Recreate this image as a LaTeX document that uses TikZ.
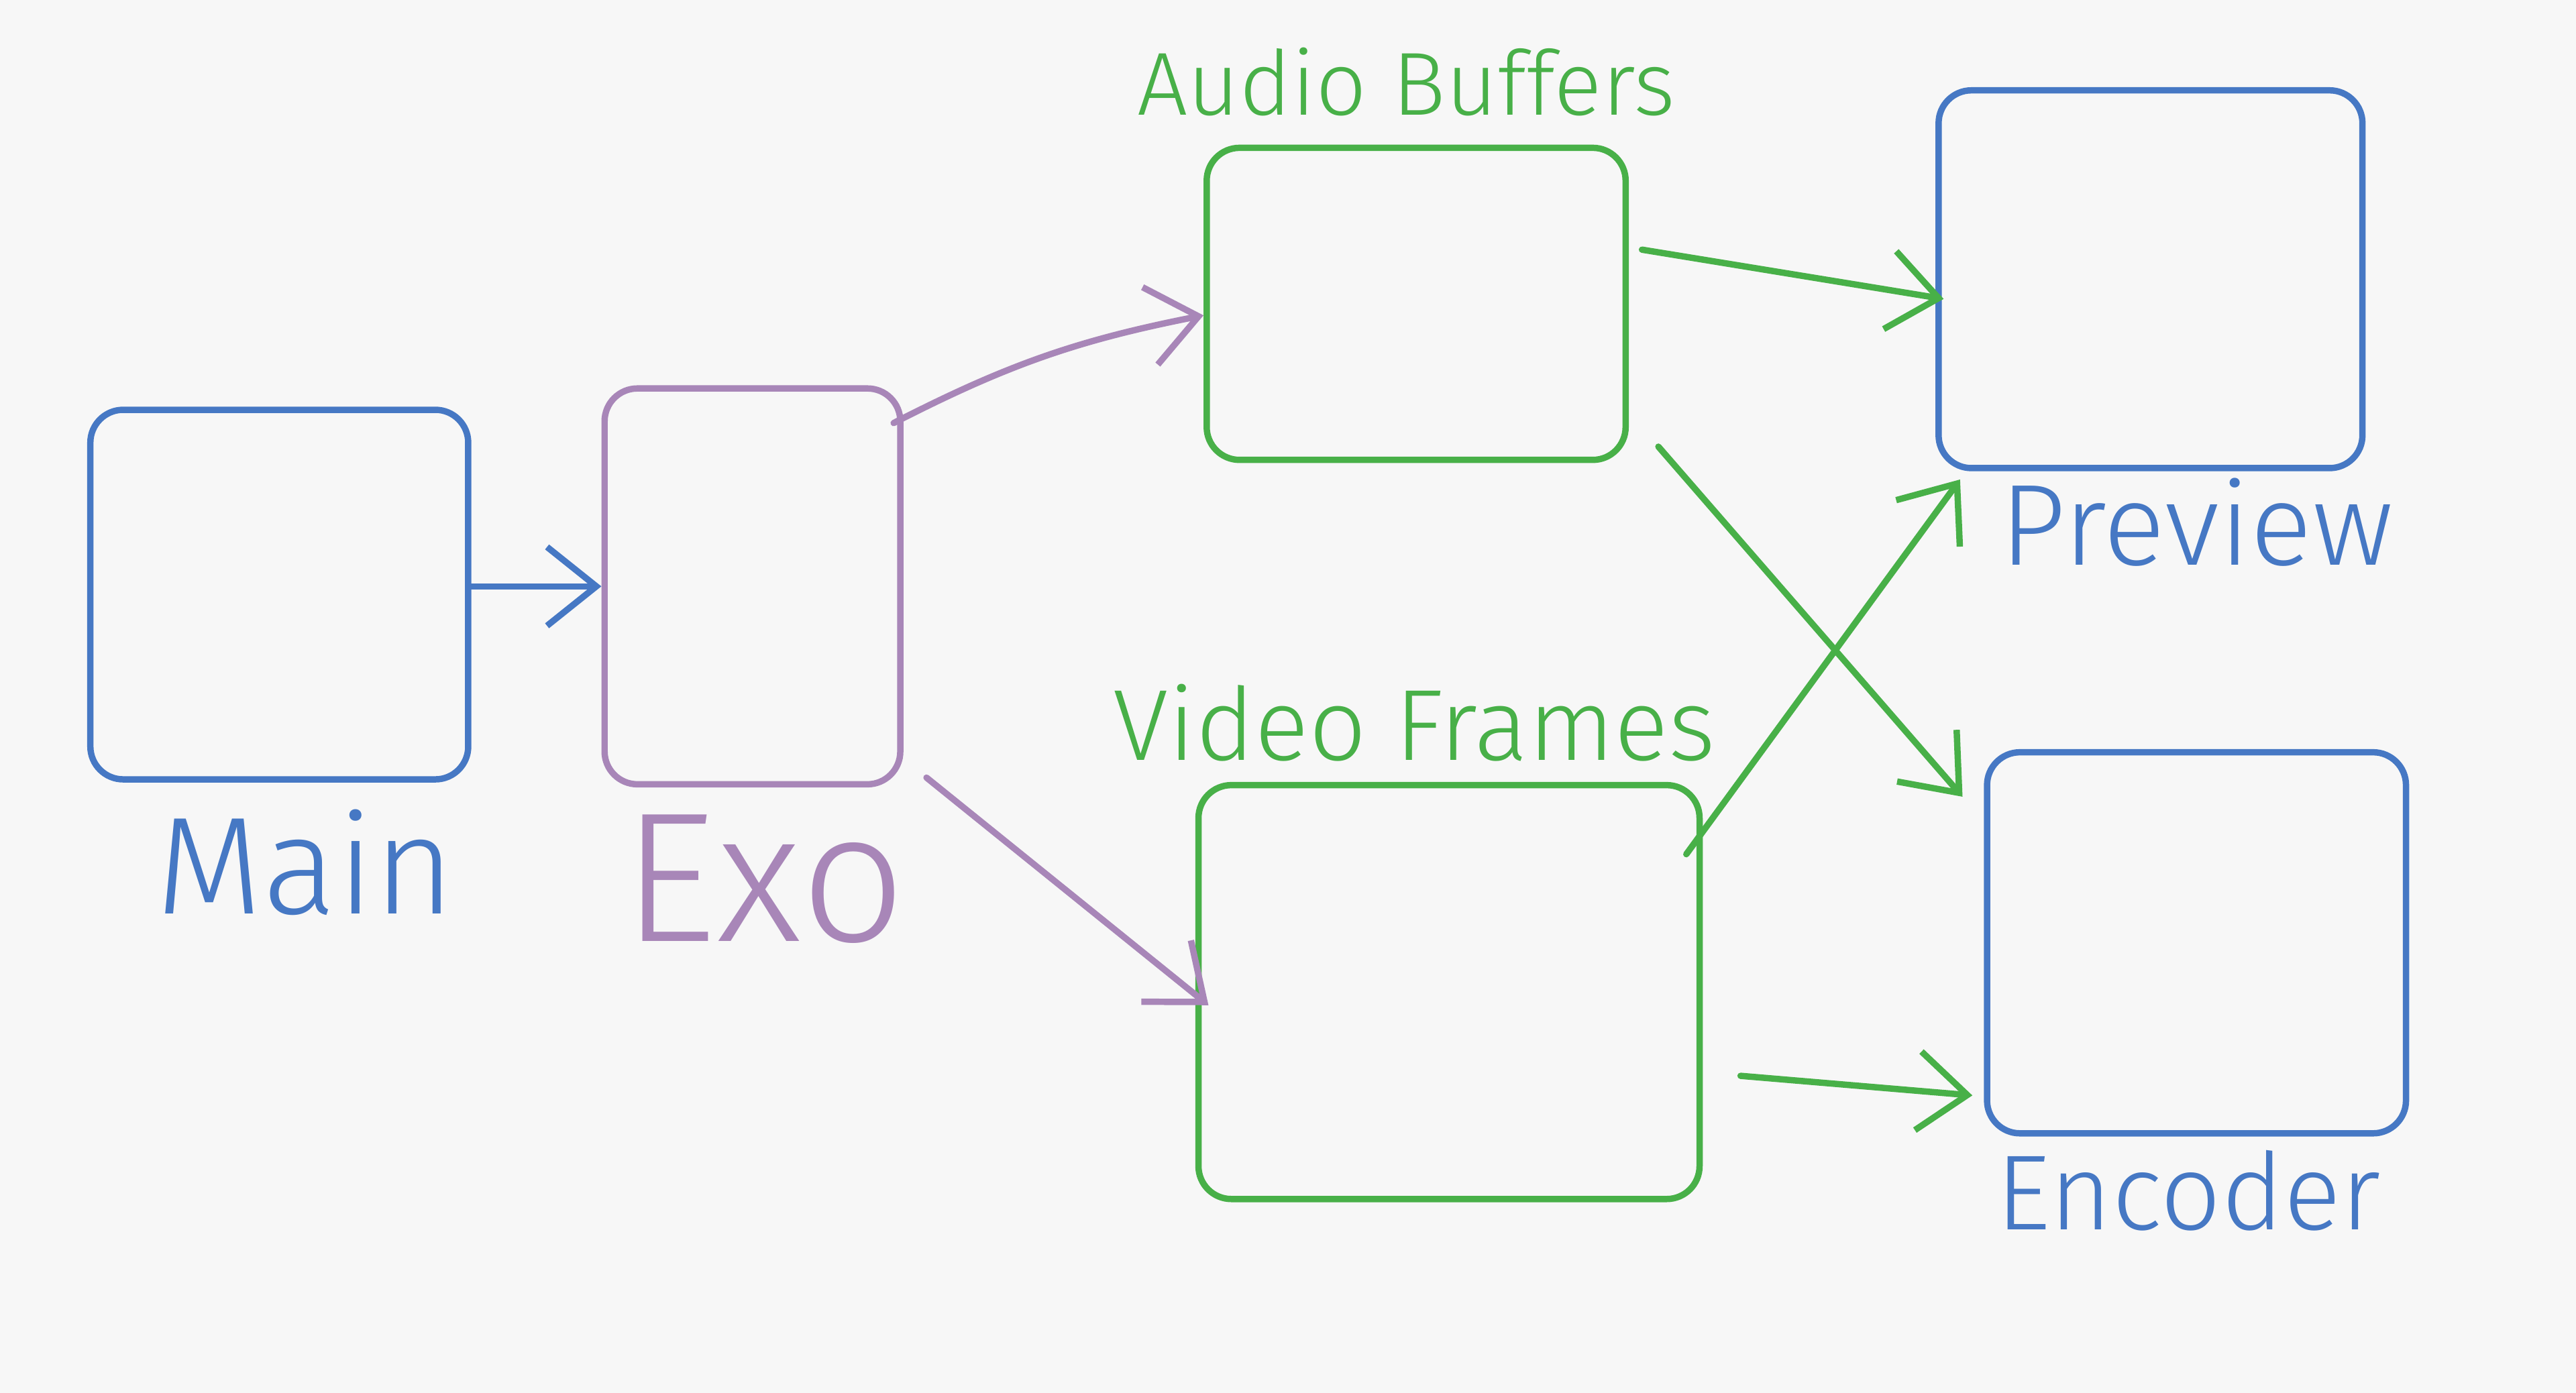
\documentclass[tikz,border=0pt]{standalone}
\usepackage{fontspec}
\newfontfamily\handfont{Fira Sans Light}
\usepackage{xcolor}
\usetikzlibrary{arrows.meta}
\definecolor{sketchblue}{HTML}{4678C4}
\definecolor{sketchpurple}{HTML}{A886B8}
\definecolor{sketchgreen}{HTML}{48B048}
\definecolor{paper}{HTML}{F7F7F7}
\begin{document}
\begin{tikzpicture}[
  line width=1.1pt, line cap=round, line join=round,
  box/.style={draw, rectangle, rounded corners=2mm, inner sep=0pt},
  caption/.style={font=\handfont\fontsize{#1}{#1}\selectfont, inner sep=0pt},
  flow/.style={-{Straight Barb[length=3mm,width=4.8mm]}},
]
\fill[paper] (0,0) rectangle (15.68,8.48);
\useasboundingbox (0,0) rectangle (15.68,8.48);
% boxes
\node[box, sketchblue, minimum width=2.30cm, minimum height=2.25cm] (main) at (1.70,4.86) {};
\node[box, sketchpurple, minimum width=1.80cm, minimum height=2.41cm] (exo) at (4.58,4.91) {};
\node[box, sketchgreen, minimum width=2.55cm, minimum height=1.90cm] (audio) at (8.62,6.63) {};
\node[box, sketchgreen, minimum width=3.05cm, minimum height=2.52cm] (video) at (8.82,2.44) {};
\node[box, sketchblue, minimum width=2.58cm, minimum height=2.30cm] (preview) at (13.09,6.78) {};
\node[box, sketchblue, minimum width=2.55cm, minimum height=2.32cm] (encoder) at (13.37,2.74) {};
% captions
\node[caption=24, sketchblue] (mainname) at (1.86,3.23) {Main};
\node[caption=32, sketchpurple] (exoname) at (4.65,3.13) {Exo};
\node[caption=15.5, sketchgreen] (audioname) at (8.56,7.98) {Audio Buffers};
\node[caption=17.5, sketchgreen] (videoname) at (8.61,4.08) {Video Frames};
\node[caption=20, sketchblue] (previewname) at (13.37,5.30) {Preview};
\node[caption=18.5, sketchblue] (encodername) at (13.32,1.23) {Encoder};
% flows
\draw[flow, sketchblue] ([yshift=0.05cm]main.east) -- (exo.west);
\draw[flow, sketchpurple] ([xshift=-0.06cm,yshift=-0.23cm]exo.north east)
  to[bend left=8] ([yshift=-0.07cm]audio.west);
\draw[flow, sketchpurple] ([xshift=0.14cm,yshift=0.06cm]exo.south east)
  -- ([xshift=0.08cm,yshift=-0.08cm]video.west);
\draw[flow, sketchgreen] ([xshift=0.08cm,yshift=0.33cm]audio.east)
  -- ([xshift=0.05cm,yshift=-0.12cm]preview.west);
\draw[flow, sketchgreen] ([xshift=0.18cm,yshift=0.10cm]audio.south east)
  -- ([xshift=-0.13cm,yshift=-0.29cm]encoder.north west);
\draw[flow, sketchgreen] ([xshift=-0.10cm,yshift=-0.44cm]video.north east)
  -- ([xshift=0.15cm,yshift=-0.05cm]preview.south west);
\draw[flow, sketchgreen] ([xshift=0.23cm,yshift=-0.51cm]video.east)
  -- ([xshift=-0.07cm,yshift=0.25cm]encoder.south west);
\end{tikzpicture}
\end{document}
